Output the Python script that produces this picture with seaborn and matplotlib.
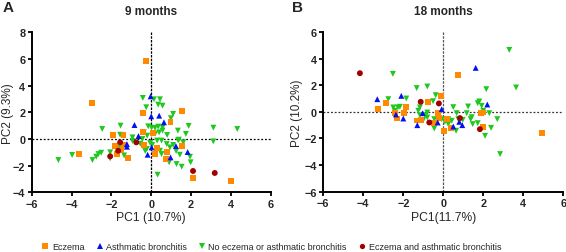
import pandas as pd
import matplotlib
matplotlib.use('Agg')
import matplotlib.pyplot as plt
import seaborn as sns
import numpy as np

# groups (legend order)
groups = ['Eczema', 'Asthmatic bronchitis', 'No eczema or asthmatic bronchitis',
          'Eczema and asthmatic bronchitis']
palette = {'Eczema': '#FF8A00', 'Asthmatic bronchitis': '#0010F0',
           'No eczema or asthmatic bronchitis': '#1EC81E',
           'Eczema and asthmatic bronchitis': '#A00000'}
markers = {'Eczema': 's', 'Asthmatic bronchitis': '^',
           'No eczema or asthmatic bronchitis': 'v',
           'Eczema and asthmatic bronchitis': 'o'}

# ---- 9 months (panel A) ----
a_ecz_x = [-0.25, -2.98, -0.42, 1.56, 0.97, -1.92, -1.39, -0.39, 0.1, -1.82, -1.39, -0.35,
           -3.63, -1.51, -1.72, -1.16, 1.53, 0.3, 0.17, 0.8, 0.74, 2.11, 4.02]
a_ecz_y = [5.85, 2.72, 1.93, 2.08, 1.25, 0.27, 0.27, 0.55, 0.43, -0.55, -0.45, -0.45,
           -1.13, -0.83, -1.13, -1.43, -0.5, -0.68, -1.13, -1.0, -1.53, -2.93, -3.15]
a_ast_x = [-0.03, 0.0, 0.4, 0.64, -0.84, -0.64, -1.22, -1.22, -0.18, 0.02, 1.24, 1.83, 0.97]
a_ast_y = [3.2, 1.7, 1.75, 1.25, 1.05, 0.22, -0.38, -0.58, -1.18, -0.63, -0.53, -0.98, -1.38]
a_non_x = [-0.42, -0.25, -2.46, -1.54, -0.15, -1.56, -0.2, -0.37, -0.94, -0.94, -0.44, -0.05,
           -2.06, -2.51, -2.65, -2.76, -2.95, -3.97, -4.66, -2.06, -1.36, -1.64, -0.22,
           0.14, 0.44, 0.35, 0.57, 1.1, 0.99, 1.88, 3.12, 4.32, 3.12, 1.34, 1.74, 0.19,
           0.35, 0.57, 0.57, 0.4, 0.2, 0.8, 0.02, 1.39, 1.61, 0.3, 0.52, 0.78, 0.44, 0.52,
           0.9, 1.27, 1.53, 1.98, 1.95, 1.44, 0.94, 0.32, -0.55, 0.05, -0.3, 1.1, 1.25, 1.35]
a_non_y = [3.08, 2.38, 0.75, 1.0, 0.95, 0.32, 0.25, 0.5, 0.12, -0.15, 0.0, -0.3,
           -1.0, -1.03, -1.13, -1.33, -1.58, -1.2, -1.58, -1.45, -1.23, -0.68, -0.75,
           2.98, 2.98, 2.58, 2.5, 1.88, 1.56, 0.98, 0.85, 0.75, -0.18, 0.63, 0.38, 0.83,
           0.93, 0.88, 0.63, 0.5, 0.4, 0.3, 0.85, -0.05, -0.25, -0.12, -0.12, -0.38, -0.88, -1.13,
           -1.75, -1.88, -2.08, -1.75, -1.33, -1.18, -0.63, -2.68, -0.35, -0.45, -0.9, -0.45, -0.9, -0.1]
a_both_x = [-1.56, -0.75, -1.66, -2.06, 2.1, 3.19]
a_both_y = [-0.25, -0.25, -0.88, -1.3, -2.4, -2.55]

# ---- 18 months (panel B) ----
b_ecz_x = [-3.27, -2.87, -1.88, -0.78, -0.12, -2.42, -2.33, -1.95, -1.33, -1.13, -0.28,
           -0.23, -0.48, 0.03, 0.75, 1.89, 2.0, 0.2, 0.37, 4.95, 1.97]
b_ecz_y = [0.18, 0.63, 0.33, 0.75, 1.2, -0.12, -0.5, -0.1, -0.65, -0.6, -0.1,
           -0.45, -0.85, -1.42, 2.78, -0.1, -0.05, -0.55, -1.2, -1.62, -1.17]
b_ast_x = [-3.3, -2.1, -2.37, -2.0, -1.3, -1.03, -0.08, -0.28, 1.62, 2.2, 0.8, 0.5, 0.95]
b_ast_y = [0.95, 1.2, -0.2, -0.5, -1.0, -0.1, 0.2, -0.8, 3.3, 0.55, -0.75, -1.1, -1.0]
b_non_x = [-2.52, -1.33, -0.8, -2.75, -1.85, -0.38, -0.51, -2.5, -2.27, -2.17, -2.43, -1.17,
           -1.25, -0.8, -0.92, -0.45, -0.8, -0.45, -0.08, -1.0, -1.17,
           3.3, 3.64, 2.15, 1.8, 1.72, 1.92, 1.24, 0.5, 2.3, 2.7, 2.39, 2.09, 2.84, 1.72,
           1.47, 1.37, 1.42, 1.17, 0.67, 0.75, 0.97, 0.64, 0.25, 0.08, 0.42, 0.25, 2.0]
b_non_y = [2.85, 1.78, 1.9, 0.95, 1.0, 1.25, 0.8, 0.33, 0.33, 0.38, 0.08, 0.33,
           0.08, -0.05, -0.25, -1.25, -0.42, -0.55, -0.55, -0.6, -0.25,
           4.65, 1.83, 1.7, 0.78, 0.65, 0.45, 0.4, 0.35, -0.1, -0.55, -1.2, -1.8, -3.17, -0.85,
           -0.92, -0.55, -0.4, -0.1, -0.1, -0.55, -0.6, -1.42, -0.92, -0.75, -0.67, -0.55, 0.08]
b_both_x = [-4.17, -1.13, -0.22, -0.7, 0.83, 1.83]
b_both_y = [2.9, 0.75, 0.63, -0.8, -0.47, -1.3]


def make_df(ecz, ast, non, both):
    # green drawn first, then the others on top
    rows = []
    for g, (xs, ys) in [(groups[2], non), (groups[0], ecz), (groups[1], ast), (groups[3], both)]:
        rows.append(pd.DataFrame({'x': xs, 'y': ys, 'group': g}))
    return pd.concat(rows, ignore_index=True)


df_a = make_df((a_ecz_x, a_ecz_y), (a_ast_x, a_ast_y), (a_non_x, a_non_y), (a_both_x, a_both_y))
df_b = make_df((b_ecz_x, b_ecz_y), (b_ast_x, b_ast_y), (b_non_x, b_non_y), (b_both_x, b_both_y))

sns.set_style('ticks')
plt.rcParams['font.family'] = ['Liberation Sans', 'DejaVu Sans']

fig = plt.figure(figsize=(5.66, 2.53), dpi=100)
ax1 = fig.add_axes([0.056, 0.236, 0.4223, 0.632])
ax2 = fig.add_axes([0.5712, 0.238, 0.424, 0.632])

panels = [(ax1, df_a, '9 months', 'PC1 (10.7%)', 'PC2 (9.3%)', (-4, 8), -0.076),
          (ax2, df_b, '18 months', 'PC1(11.7%)', 'PC2 (10.2%)', (-6, 6), -0.085)]

for i, (ax, df, title, xl, yl, ylim, ylab_x) in enumerate(panels):
    ax.axvline(0, color='black' if i == 0 else '#555555', ls=(0, (2, 1)), lw=0.9, zorder=1)
    ax.axhline(0, color='black' if i == 0 else '#333333', ls=(0, (1.5, 1.5)), lw=0.9, zorder=1)
    sns.scatterplot(data=df, x='x', y='y', hue='group', style='group',
                    hue_order=groups, style_order=groups, palette=palette,
                    markers=markers, s=18, linewidth=0, ax=ax, zorder=3)
    ax.set_xlim(-6, 6)
    ax.set_ylim(*ylim)
    ax.set_xticks(np.arange(-6, 7, 2))
    ax.set_yticks(np.arange(ylim[0], ylim[1] + 1, 2))
    ax.set_title(title, fontsize=8.5, weight='bold', pad=13)
    ax.set_xlabel(xl, fontsize=8.7, labelpad=2)
    ax.set_ylabel(yl, fontsize=8.5)
    ax.yaxis.set_label_coords(ylab_x, 0.5)
    ax.tick_params(labelsize=7.8, width=1.3, length=3, pad=1.5, color='black')
    for lab in ax.get_xticklabels() + ax.get_yticklabels():
        lab.set_fontweight('bold')
    for sp in ['left', 'bottom']:
        ax.spines[sp].set_linewidth(1.4)
        ax.spines[sp].set_color('black')
    sns.despine(ax=ax)
    ax.patch.set_alpha(0)

handles, labels = ax1.get_legend_handles_labels()
ax1.get_legend().remove()
ax2.get_legend().remove()
fig.legend(handles, labels, loc='center', bbox_to_anchor=(0.478, 0.02), ncol=4,
           frameon=False, fontsize=6.5, handletextpad=0.1, columnspacing=1.1,
           markerscale=0.9, handlelength=1.2, borderaxespad=0)

fig.text(0.004, 0.995, 'A', fontsize=11, weight='bold', va='top')
fig.text(0.516, 0.995, 'B', fontsize=11, weight='bold', va='top')

plt.savefig('out.png', dpi=100)
plt.close()
